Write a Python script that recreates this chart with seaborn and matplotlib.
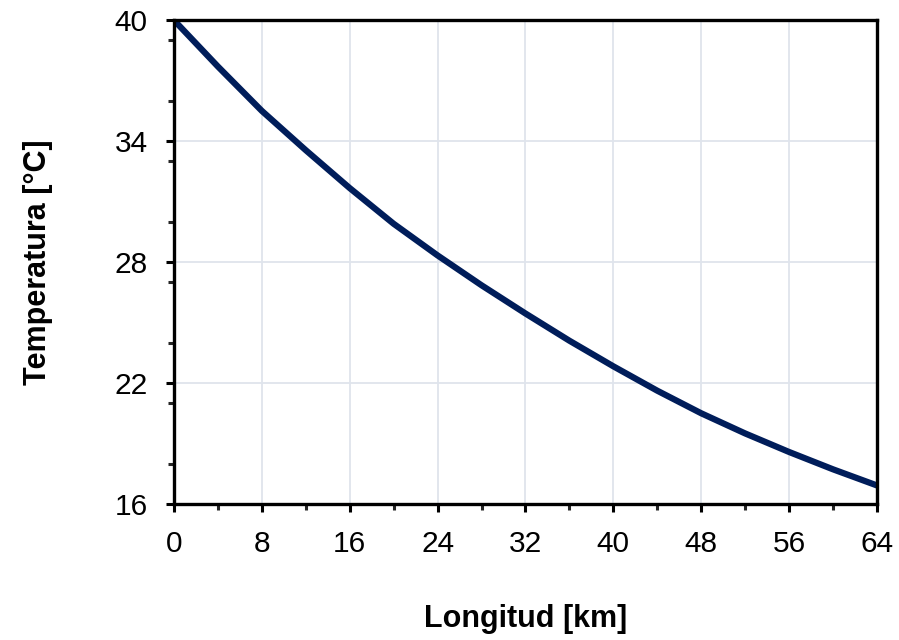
import os
import seaborn as sns
import pandas as pd
import matplotlib.pyplot as plt
from matplotlib import font_manager as fm
from matplotlib.ticker import MultipleLocator

# Data
longitud = [0, 4, 8, 12, 16, 20, 24, 28, 32, 36, 40, 44, 48, 52, 56, 60, 64]
temperatura = [40.0, 37.7, 35.5, 33.55, 31.67, 29.9, 28.33, 26.85, 25.45, 24.1,
               22.83, 21.62, 20.5, 19.5, 18.58, 17.72, 16.92]
x_ticks = [0, 8, 16, 24, 32, 40, 48, 56, 64]
y_ticks = [16, 22, 28, 34, 40]

df = pd.DataFrame({'Longitud': longitud, 'Temperatura': temperatura})

sns.set_style('white')
plt.rcParams['font.family'] = ['Liberation Sans', 'DejaVu Sans']


def font_file(name):
    for f in fm.findSystemFonts():
        if os.path.basename(f) == name:
            return f
    return None


reg_file = font_file('LiberationSans-Regular.ttf')
bold_file = font_file('LiberationSans-Bold.ttf')
if reg_file:
    fp_tick = fm.FontProperties(fname=reg_file, size=21.5)
else:
    fp_tick = fm.FontProperties(family='Liberation Sans', size=21.5)
if bold_file:
    fp_label = fm.FontProperties(fname=bold_file, size=22)
else:
    fp_label = fm.FontProperties(family='Liberation Sans', weight='bold', size=22)

fig = plt.figure(figsize=(8.99, 6.4), dpi=100)
ax = fig.add_axes([0.1935, 0.2125, 0.782, 0.756])

sns.lineplot(data=df, x='Longitud', y='Temperatura', color='#001d5a',
             linewidth=4.5, ax=ax, solid_capstyle='butt')

ax.set_xlim(0, 64)
ax.set_ylim(16, 40)
ax.set_xticks(x_ticks)
ax.set_yticks(y_ticks)
ax.xaxis.set_minor_locator(MultipleLocator(4))
ax.yaxis.set_minor_locator(MultipleLocator(3))

ax.grid(True, which='major', color='#dfe4ec', linewidth=1.3)
ax.set_axisbelow(True)

for s in ax.spines.values():
    s.set_linewidth(2.4)
    s.set_color('black')

ax.tick_params(which='major', direction='out', length=6, width=2.2,
               colors='black', pad=13, bottom=True, left=True)
ax.tick_params(which='minor', direction='out', length=4, width=2.2,
               bottom=True, left=True)

for lab in ax.get_xticklabels() + ax.get_yticklabels():
    lab.set_fontproperties(fp_tick)
    lab.set_color('black')

ax.set_xlabel('Longitud [km]', fontproperties=fp_label, color='black', labelpad=33)
ax.set_ylabel('Temperatura [°C]', fontproperties=fp_label, color='black', labelpad=44)

fig.savefig('out.png', dpi=100)
